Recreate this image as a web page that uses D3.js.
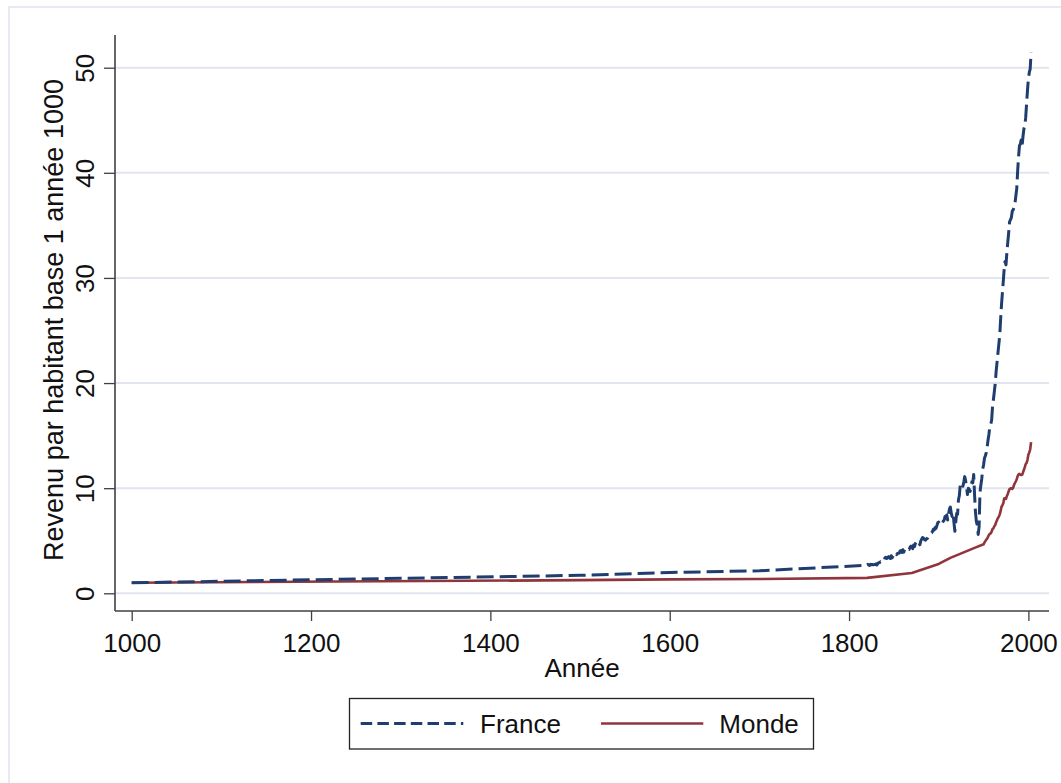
<!DOCTYPE html>
<html lang="fr">
<head>
<meta charset="utf-8">
<title>Revenu par habitant, France et Monde</title>
<script src="https://cdn.jsdelivr.net/npm/d3@7"></script>
<style>
  html, body { margin: 0; padding: 0; background: #ffffff; }
  svg { display: block; font-family: "Liberation Sans", Arial, sans-serif; }
</style>
</head>
<body>
<svg id="chart" width="1061" height="783"></svg>
<script>
// Revenu par habitant, base 1 = année 1000 (France et Monde)

// Benchmark years before the annual series
const franceBenchYears  = [1000, 1500, 1600, 1700];
const franceBenchValues = [1.00, 1.71, 1.98, 2.14];

// France, annual series 1820–2003
const franceAnnualStart = 1820;
const franceAnnualValues = [
  2.67, 2.76, 2.69, 2.65, 2.76, 2.71, 2.74, 2.71, 2.73, 2.74,   // 1820s
  2.80, 2.69, 2.84, 2.90, 2.92, 3.00, 2.94, 2.99, 3.08, 3.06,   // 1830s
  3.36, 3.42, 3.31, 3.39, 3.49, 3.35, 3.31, 3.58, 3.37, 3.52,   // 1840s
  3.76, 3.72, 3.83, 3.68, 3.79, 3.81, 3.83, 4.03, 4.06, 3.89,   // 1850s
  4.14, 3.91, 4.19, 4.29, 4.35, 4.31, 4.20, 4.18, 4.38, 4.48,   // 1860s
  4.41, 4.25, 4.60, 4.45, 4.75, 4.90, 4.72, 4.85, 4.80, 4.62,   // 1870s
  4.99, 5.15, 5.30, 5.25, 5.12, 5.05, 5.15, 5.20, 5.28, 5.42,   // 1880s
  5.59, 5.70, 5.75, 5.88, 6.10, 6.02, 6.25, 6.18, 6.45, 6.72,   // 1890s
  6.77, 6.55, 6.50, 6.68, 6.72, 6.85, 6.95, 7.30, 7.15, 7.45,   // 1900s
  6.98, 7.55, 8.05, 8.20, 7.60, 7.30, 7.60, 6.70, 5.90, 6.80,   // 1910s
  7.60, 7.50, 8.90, 9.30, 10.30, 10.20, 10.40, 10.20, 10.60, 11.10, // 1920s
  10.70, 10.10, 9.40, 10.00, 9.90, 9.70, 10.10, 10.60, 10.50, 11.30, // 1930s
  9.30, 7.70, 6.80, 6.50, 5.60, 6.30, 9.60, 10.30, 10.90, 11.80,   // 1940s
  12.20, 12.85, 13.09, 13.37, 13.92, 14.59, 15.13, 15.91, 16.08, 16.46, // 1950s
  17.76, 18.44, 19.18, 19.95, 21.08, 21.95, 22.83, 23.68, 24.52, 26.02, // 1960s
  27.44, 28.59, 29.69, 30.86, 31.56, 31.24, 32.40, 33.39, 34.30, 35.33, // 1970s
  35.54, 35.74, 36.35, 36.47, 36.73, 37.10, 37.79, 38.50, 40.15, 41.49, // 1980s
  42.57, 42.73, 43.13, 42.63, 43.48, 44.19, 44.47, 45.27, 46.61, 47.86, // 1990s
  48.96, 49.55, 49.88, 51.44                                        // 2000s
];

// Monde: benchmark years up to 1950
const mondeBenchYears  = [1000, 1500, 1600, 1700, 1820, 1870, 1900, 1913, 1940];
const mondeBenchValues = [1.00, 1.25, 1.32, 1.36, 1.47, 1.93, 2.79, 3.37, 4.32];

// Monde, annual series 1950–2003
const mondeAnnualStart = 1950;
const mondeAnnualValues = [
  4.66, 4.83, 4.97, 5.11, 5.19, 5.39, 5.54, 5.66, 5.71, 5.87,   // 1950s
  6.12, 6.18, 6.37, 6.49, 6.76, 6.96, 7.17, 7.28, 7.51, 7.81,   // 1960s
  8.23, 8.37, 8.57, 9.01, 9.03, 8.98, 9.26, 9.45, 9.71, 9.91,   // 1970s
  9.98, 10.00, 9.93, 10.04, 10.31, 10.49, 10.66, 10.86, 11.15, 11.30, // 1980s
  11.37, 11.28, 11.26, 11.28, 11.50, 11.75, 12.00, 12.30, 12.40, 12.70, // 1990s
  13.20, 13.40, 13.70, 14.38                                     // 2000s
];

const xTicks = [1000, 1200, 1400, 1600, 1800, 2000];
const yTicks = [0, 10, 20, 30, 40, 50];

const seriesNames  = ["France", "Monde"];
const seriesColors = ["#203d6f", "#90353b"];

const xTitle = "Année";
const yTitle = "Revenu par habitant base 1 année 1000";

// ---- assemble point lists ----
const toPoints = (years, values) => years.map((yr, i) => ({ year: yr, value: values[i] }));
const annual = (start, values) => values.map((v, i) => ({ year: start + i, value: v }));

const france = toPoints(franceBenchYears, franceBenchValues)
  .concat(annual(franceAnnualStart, franceAnnualValues));
const monde = toPoints(mondeBenchYears, mondeBenchValues)
  .concat(annual(mondeAnnualStart, mondeAnnualValues));

// ---- layout ----
const svg = d3.select("#chart");
const plot = { left: 115, right: 1049, top: 35, bottom: 611 };
const axisColor = "#404040";
const gridColor = "#e1e5ef";

const x = d3.scaleLinear().domain([1000, 2000]).range([131.7, 1028.4]);
const y = d3.scaleLinear().domain([0, 50]).range([593.3, 67.7]);

// outer frame
svg.append("rect")
  .attr("x", 9).attr("y", 7)
  .attr("width", 1080).attr("height", 800)
  .attr("fill", "none")
  .attr("stroke", "#dfe4ee")
  .attr("stroke-width", 1.5);

// horizontal grid lines
svg.append("g")
  .selectAll("line")
  .data(yTicks)
  .join("line")
  .attr("x1", plot.left).attr("x2", plot.right)
  .attr("y1", d => y(d)).attr("y2", d => y(d))
  .attr("stroke", gridColor)
  .attr("stroke-width", 2);

// y axis
const yAxis = svg.append("g")
  .attr("transform", `translate(${plot.left},0)`)
  .call(d3.axisLeft(y).tickValues(yTicks).tickSize(11).tickPadding(0).tickFormat(d3.format("d")));
yAxis.select(".domain").remove();
yAxis.selectAll(".tick line").attr("stroke", axisColor).attr("stroke-width", 1.3);
yAxis.selectAll(".tick text")
  .attr("x", null).attr("dy", null)
  .attr("transform", "translate(-21,0) rotate(-90)")
  .attr("text-anchor", "middle")
  .attr("font-size", 26)
  .attr("fill", "#111");
yAxis.append("line")
  .attr("x1", 0).attr("x2", 0)
  .attr("y1", plot.top).attr("y2", plot.bottom)
  .attr("stroke", axisColor).attr("stroke-width", 1.6);

// x axis
const xAxis = svg.append("g")
  .attr("transform", `translate(0,${plot.bottom})`)
  .call(d3.axisBottom(x).tickValues(xTicks).tickSize(10).tickPadding(0).tickFormat(d3.format("d")));
xAxis.select(".domain").remove();
xAxis.selectAll(".tick line").attr("stroke", axisColor).attr("stroke-width", 1.3);
xAxis.selectAll(".tick text")
  .attr("y", 41).attr("dy", null)
  .attr("font-size", 26)
  .attr("fill", "#111");
xAxis.append("line")
  .attr("x1", plot.left).attr("x2", plot.right)
  .attr("y1", 0).attr("y2", 0)
  .attr("stroke", axisColor).attr("stroke-width", 1.6);

// axis titles
svg.append("text")
  .attr("x", (plot.left + plot.right) / 2)
  .attr("y", 677)
  .attr("text-anchor", "middle")
  .attr("font-size", 26)
  .attr("fill", "#111")
  .text(xTitle);

svg.append("text")
  .attr("transform", `translate(63,${(plot.top + plot.bottom) / 2 - 3}) rotate(-90)`)
  .attr("text-anchor", "middle")
  .attr("font-size", 27)
  .attr("fill", "#111")
  .text(yTitle);

// series lines
const line = d3.line().x(d => x(d.year)).y(d => y(d.value));

svg.append("path")
  .datum(monde)
  .attr("d", line)
  .attr("fill", "none")
  .attr("stroke", seriesColors[1])
  .attr("stroke-width", 2.6)
  .attr("stroke-linejoin", "round");

svg.append("path")
  .datum(france)
  .attr("d", line)
  .attr("fill", "none")
  .attr("stroke", seriesColors[0])
  .attr("stroke-width", 3)
  .attr("stroke-dasharray", "17,6")
  .attr("stroke-linejoin", "round");

// legend
const legend = svg.append("g");
legend.append("rect")
  .attr("x", 349.5).attr("y", 698.5)
  .attr("width", 464).attr("height", 50.5)
  .attr("fill", "#fff")
  .attr("stroke", "#222")
  .attr("stroke-width", 1.3);

const legendItems = [
  { name: seriesNames[0], color: seriesColors[0], dash: "11.5,5.2", width: 3,   x0: 360.7, x1: 463.3, tx: 480 },
  { name: seriesNames[1], color: seriesColors[1], dash: null,       width: 2.6, x0: 601,   x1: 703.3, tx: 719.3 }
];
legendItems.forEach(it => {
  legend.append("line")
    .attr("x1", it.x0).attr("x2", it.x1)
    .attr("y1", 723.5).attr("y2", 723.5)
    .attr("stroke", it.color)
    .attr("stroke-width", it.width)
    .attr("stroke-dasharray", it.dash);
  legend.append("text")
    .attr("x", it.tx).attr("y", 732.5)
    .attr("font-size", 26)
    .attr("fill", "#111")
    .text(it.name);
});
</script>
</body>
</html>
